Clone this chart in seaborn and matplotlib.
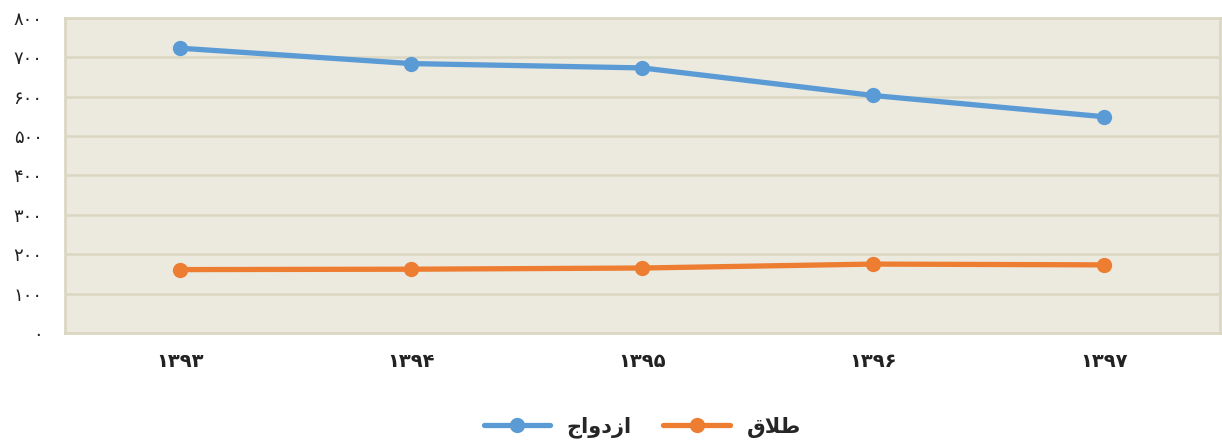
import seaborn as sns
import matplotlib.pyplot as plt
import pandas as pd

# years (Persian digits) and values
years = ["۱۳۹۳", "۱۳۹۴", "۱۳۹۵", "۱۳۹۶", "۱۳۹۷"]
marriage = [723, 684, 673, 603, 549]
divorce = [161, 162, 165, 175, 173]
y_ticks = [0, 100, 200, 300, 400, 500, 600, 700, 800]
y_labels = ["۰", "۱۰۰", "۲۰۰", "۳۰۰", "۴۰۰", "۵۰۰", "۶۰۰", "۷۰۰", "۸۰۰"]

# legend names, shaped by hand for left-to-right drawing
name_marriage = "جاودزا"                     # ازدواج
name_divorce = "ق" + "\uFEFC" + "\uFEC3"     # طلاق

df = pd.DataFrame({
    "year": years * 2,
    "value": marriage + divorce,
    "series": [name_marriage] * 5 + [name_divorce] * 5,
})

sns.set_style("white")
plt.rcParams["font.family"] = ["DejaVu Sans"]

fig = plt.figure(figsize=(12.22, 4.47), dpi=100)
ax = fig.add_axes([0.053, 0.255, 0.945, 0.705])
ax.set_facecolor("#ECE9DF")

sns.lineplot(data=df, x="year", y="value", hue="series",
             palette=["#5B9BD5", "#ED7D31"], marker="o", markersize=11,
             markeredgewidth=0, linewidth=3.8, ax=ax, sort=False)

ax.set_xlim(-0.5, 4.5)
ax.set_ylim(0, 800)
ax.set_yticks(y_ticks)
ax.set_yticklabels(y_labels, fontsize=13, color="#222222")
ax.set_xticks(range(len(years)))
ax.set_xticklabels(years, fontsize=14, fontweight="bold", color="#222222")
ax.tick_params(axis="x", length=0, pad=14)
ax.tick_params(axis="y", length=0, pad=16)
ax.grid(axis="y", color="#DCD7C3", linewidth=1.8)
ax.set_axisbelow(True)
for s in ax.spines.values():
    s.set_color("#DCD7C3")
    s.set_linewidth(2)
ax.set_xlabel("")
ax.set_ylabel("")

ax.legend(loc="center", bbox_to_anchor=(0.5, -0.30), ncol=2, frameon=False,
          prop={"size": 15, "weight": "bold"}, handlelength=3.2,
          columnspacing=1.5)

fig.savefig("out.png", dpi=100)
